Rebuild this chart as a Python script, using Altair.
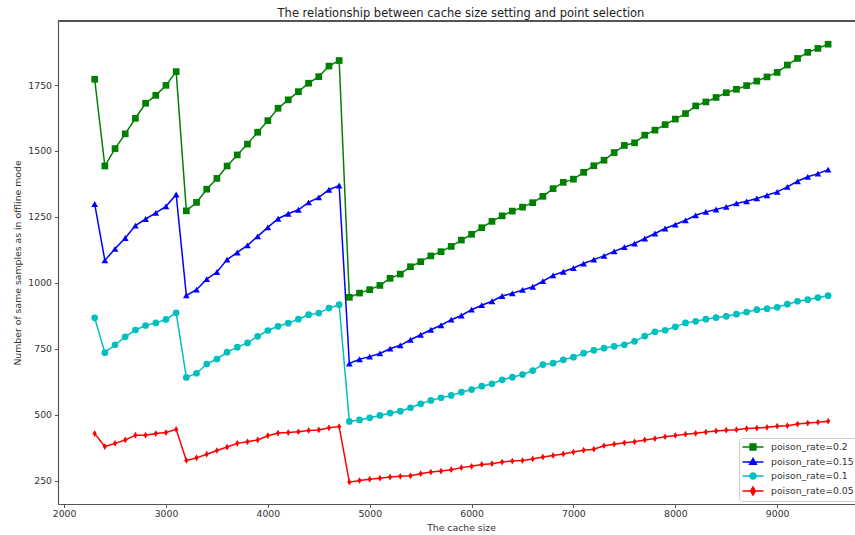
import altair as alt
import pandas as pd

# Cache sizes tested (x axis)
cache_sizes = list(range(2300, 9600, 100))

series_labels = ["poison_rate=0.2", "poison_rate=0.15", "poison_rate=0.1", "poison_rate=0.05"]
series_colors = ["#008000", "#0000ff", "#00bfbf", "#ff0000"]

# Number of samples identical to the offline run, one list per poison rate
rate_02 = [1772, 1443, 1509, 1565, 1624, 1681, 1711, 1749, 1801,
           1273, 1305, 1355, 1396, 1443, 1485, 1526, 1571, 1615, 1662, 1694, 1725, 1757, 1782, 1822, 1843,
           945, 961, 974, 990, 1017, 1033, 1061, 1080, 1102, 1118, 1138, 1162, 1184, 1209, 1233, 1254,
           1272, 1287, 1304, 1328, 1357, 1381, 1393, 1419, 1444, 1465, 1494, 1521, 1531, 1560, 1579,
           1600, 1621, 1642, 1671, 1686, 1703, 1721, 1734, 1748, 1765, 1781, 1798, 1826, 1851, 1874,
           1889, 1905]
rate_015 = [1299, 1085, 1129, 1170, 1217, 1242, 1265, 1290, 1335,
            952, 974, 1014, 1041, 1088, 1115, 1142, 1176, 1210, 1243, 1262, 1277, 1305, 1324, 1353, 1369,
            694, 710, 720, 732, 750, 763, 784, 803, 822, 839, 860, 876, 898, 915, 930, 950,
            960, 973, 985, 1006, 1028, 1042, 1056, 1073, 1088, 1102, 1119, 1135, 1149, 1168, 1187,
            1206, 1221, 1237, 1256, 1269, 1278, 1288, 1301, 1309, 1320, 1332, 1345, 1364, 1385, 1402,
            1414, 1429]
rate_01 = [867, 735, 765, 795, 821, 838, 848, 861, 886,
           641, 657, 692, 711, 737, 756, 772, 797, 819, 835, 847, 862, 879, 885, 904, 917,
           474, 480, 488, 497, 506, 513, 526, 541, 554, 564, 573, 585, 595, 608, 617, 632,
           642, 652, 667, 690, 695, 708, 718, 733, 744, 752, 759, 765, 778, 798, 814,
           820, 833, 848, 854, 862, 868, 873, 881, 889, 898, 902, 907, 919, 930, 936,
           944, 951]
rate_005 = [428, 379, 391, 404, 422, 422, 428, 432, 444,
            326, 336, 350, 364, 377, 391, 397, 404, 420, 430, 432, 435, 440, 442, 450, 455,
            244, 250, 255, 259, 263, 266, 268, 276, 282, 286, 291, 299, 304, 311, 314, 320,
            324, 326, 332, 339, 345, 351, 358, 365, 369, 382, 388, 393, 397, 404, 409,
            416, 421, 426, 429, 434, 438, 441, 443, 447, 449, 452, 456, 458, 464, 468,
            471, 475]

x_ticks = [2000, 3000, 4000, 5000, 6000, 7000, 8000, 9000]
y_ticks = [250, 500, 750, 1000, 1250, 1500, 1750]

rows = []
for label, values in zip(series_labels, [rate_02, rate_015, rate_01, rate_005]):
    for size, v in zip(cache_sizes, values):
        rows.append({"series": label, "cache": size, "same": v})
df = pd.DataFrame(rows)

W, H = 797, 483
FONT = "DejaVu Sans"
AX = "#555555"

# data markers: square, triangle, circle, thin diamond
marker_shapes = ["square", "triangle-up", "circle", "M0,-1L0.62,0L0,1L-0.62,0Z"]

# legend glyphs: a short line with the marker in the middle
legend_glyphs = [
    "M-2.1,0H2.1M-0.6,-0.6H0.6V0.6H-0.6Z",
    "M-2.1,0H2.1M0,-0.75L0.7,0.45L-0.7,0.45Z",
    "M-2.1,0H2.1M0.62,0A0.62,0.62 0 1,1 -0.62,0A0.62,0.62 0 1,1 0.62,0Z",
    "M-2.1,0H2.1M0,-0.85L0.5,0L0,0.85L-0.5,0Z",
]

x_scale = alt.Scale(domain=[1940, 9764], nice=False, zero=False)
y_scale = alt.Scale(domain=[161, 1993], nice=False, zero=False)
color_scale = alt.Scale(domain=series_labels, range=series_colors)
shape_scale = alt.Scale(domain=series_labels, range=marker_shapes)
glyph_scale = alt.Scale(domain=series_labels, range=legend_glyphs)

x_axis = alt.Axis(values=x_ticks, format="d", grid=False, tickSize=3.5, tickColor=AX,
                  domainColor=AX, domainWidth=1.2, labelFont=FONT, labelFontSize=9.3,
                  labelColor="#333", labelPadding=2, title="The cache size",
                  titleFont=FONT, titleFontSize=9.3, titleFontWeight="normal",
                  titleColor="#333", titleX=403, titleY=23, titleBaseline="middle",
                  titleAlign="center")
y_axis = alt.Axis(values=y_ticks, format="d", grid=False, tickSize=3.5, tickColor=AX,
                  domainColor=AX, domainWidth=1.2, labelFont=FONT, labelFontSize=9.3,
                  labelColor="#333", labelPadding=3,
                  title="Number of same samples as in offline mode",
                  titleFont=FONT, titleFontSize=9.3, titleFontWeight="normal",
                  titleColor="#333", titleX=-41, titleY=H / 2, titleBaseline="middle",
                  titleAlign="center", titleAngle=270)

legend = alt.Legend(
    title=None, orient="none", legendX=681, legendY=417, padding=3,
    strokeColor="#cccccc", fillColor="rgba(255,255,255,0.85)", cornerRadius=3,
    labelFont=FONT, labelFontSize=9.3, labelColor="#333", labelOffset=12,
    symbolSize=100, symbolOffset=5, rowPadding=2, symbolStrokeWidth=1.3,
    symbolOpacity=1,
)

base = alt.Chart(df)

lines = base.mark_line(strokeWidth=1.5).encode(
    x=alt.X("cache:Q", scale=x_scale, axis=x_axis),
    y=alt.Y("same:Q", scale=y_scale, axis=y_axis),
    color=alt.Color("series:N", scale=color_scale, sort=series_labels, legend=None),
    detail="series:N",
)

points = base.mark_point(filled=True, size=45, opacity=1).encode(
    x=alt.X("cache:Q", scale=x_scale),
    y=alt.Y("same:Q", scale=y_scale),
    color=alt.Color("series:N", scale=color_scale, sort=series_labels, legend=None),
    shape=alt.Shape("series:N", scale=shape_scale, sort=series_labels, legend=None),
)

# legend-only layer: no rows reach it, it only carries the line+marker key
key = base.transform_filter("datum.cache < 0").mark_point(
    filled=True, strokeWidth=1.3, opacity=1
).encode(
    x=alt.X("cache:Q", scale=x_scale),
    y=alt.Y("same:Q", scale=y_scale),
    color=alt.Color("series:N", scale=color_scale, sort=series_labels, legend=legend),
    stroke=alt.Stroke("series:N", scale=color_scale, sort=series_labels, legend=legend),
    shape=alt.Shape("series:N", scale=glyph_scale, sort=series_labels, legend=legend),
)

# upper frame line of the plot area
top_frame = alt.Chart(df).mark_rule(color=AX, strokeWidth=1.2).encode(
    x=alt.value(0), x2=alt.value(W), y=alt.value(0)
)

chart = alt.layer(lines, points, top_frame, key).resolve_scale(
    color="independent", shape="independent", stroke="independent"
).properties(
    width=W, height=H,
    title=alt.TitleParams(
        "The relationship between cache size setting and point selection",
        font=FONT, fontSize=11.5, fontWeight="normal", color="#222",
        anchor="middle", dx=4.5, offset=1,
    ),
    autosize=alt.AutoSizeParams(type="none"),
    padding={"left": 58, "top": 21, "right": 0, "bottom": 31},
).configure_view(stroke=None).configure(background="white")

chart.save("out.html", embed_options={"renderer": "svg", "actions": False})
